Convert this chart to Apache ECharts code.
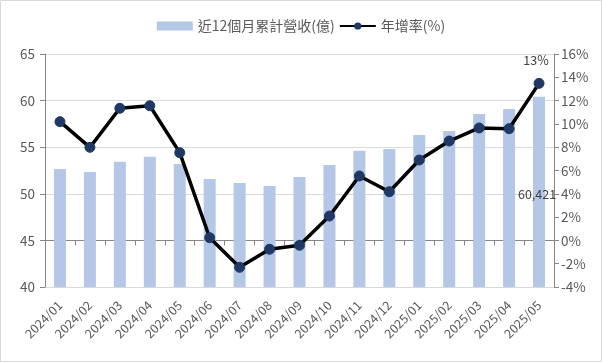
<!DOCTYPE html>
<html><head><meta charset="utf-8">
<script src="https://cdn.jsdelivr.net/npm/echarts@6/dist/echarts.min.js"></script>
<style>html,body{margin:0;padding:0;background:#fff}#c{width:602px;height:362px}</style>
</head><body><div id="c"></div>
<script>
const categories = ['2024/01','2024/02','2024/03','2024/04','2024/05','2024/06','2024/07','2024/08','2024/09','2024/10','2024/11','2024/12','2025/01','2025/02','2025/03','2025/04','2025/05'];
const revenue12m = [52.66,52.34,53.44,53.98,53.2,51.59,51.16,50.84,51.8,53.09,54.63,54.8,56.3,56.74,58.56,59.1,60.421];
const yoyPct = [10.19,7.99,11.34,11.56,7.53,0.23,-2.31,-0.76,-0.42,2.09,5.53,4.18,6.9,8.53,9.65,9.59,13.48];
const leftTicks = {min:40, max:65, interval:5};
const rightTicks = {min:-4, max:16, interval:2};

const font = '"Noto Sans CJK TC", "Noto Sans", sans-serif';
const chart = echarts.init(document.getElementById('c'));
chart.setOption({
  animation:false,
  textStyle:{fontFamily:font},
  graphic:[{type:'rect',shape:{x:0.5,y:0.5,width:601,height:361},style:{fill:'none',stroke:'#d9d9d9',lineWidth:1}}],
  legend:{
    top:14, left:'center', itemGap:4, itemWidth:36, itemHeight:9,
    textStyle:{color:'#595959',fontSize:14,fontFamily:font},
    data:[{name:'近12個月累計營收(億)',icon:'rect'},{name:'年增率(%)'}]
  },
  grid:{left:45,right:48,top:54,bottom:75},
  xAxis:{
    type:'category', data:categories, boundaryGap:true,
    axisLine:{lineStyle:{color:'#868686'}},
    axisTick:{show:true,interval:0,length:5,lineStyle:{color:'#868686'}},
    axisLabel:{rotate:45,interval:0,color:'#595959',fontSize:12.5,margin:16,fontFamily:font}
  },
  yAxis:[
    {type:'value',min:leftTicks.min,max:leftTicks.max,interval:leftTicks.interval,
     axisLine:{show:true,lineStyle:{color:'#868686'}},
     axisTick:{show:true,length:5,lineStyle:{color:'#868686'}},
     axisLabel:{color:'#595959',fontSize:13.5,margin:10,fontFamily:font},
     splitLine:{lineStyle:{color:'#d9d9d9'}}},
    {type:'value',min:rightTicks.min,max:rightTicks.max,interval:rightTicks.interval,
     axisLine:{show:true,lineStyle:{color:'#868686'}},
     axisTick:{show:true,length:5,lineStyle:{color:'#868686'}},
     axisLabel:{color:'#595959',fontSize:13.5,margin:7,formatter:'{value}%',fontFamily:font},
     splitLine:{show:false}}
  ],
  series:[
    {name:'近12個月累計營收(億)',type:'bar',yAxisIndex:0,barWidth:12,
     itemStyle:{color:'#b4c7e7'},
     data:revenue12m.map((v,i)=> i===revenue12m.length-1 ? {value:v,label:{show:true,position:'inside',offset:[-2,2],color:'#404040',fontSize:12.5,formatter:()=> '60,421'}} : v)},
    {name:'年增率(%)',type:'line',yAxisIndex:1,symbol:'circle',symbolSize:10,
     lineStyle:{color:'#000',width:3.5},
     itemStyle:{color:'#1f3864',borderColor:'#1f3864'},
     data:yoyPct.map((v,i)=> i===yoyPct.length-1 ? {value:v,label:{show:true,position:'top',distance:8,offset:[-3,-3],color:'#404040',fontSize:12.5,formatter:'13%'}} : v)}
  ]
});
</script></body></html>
